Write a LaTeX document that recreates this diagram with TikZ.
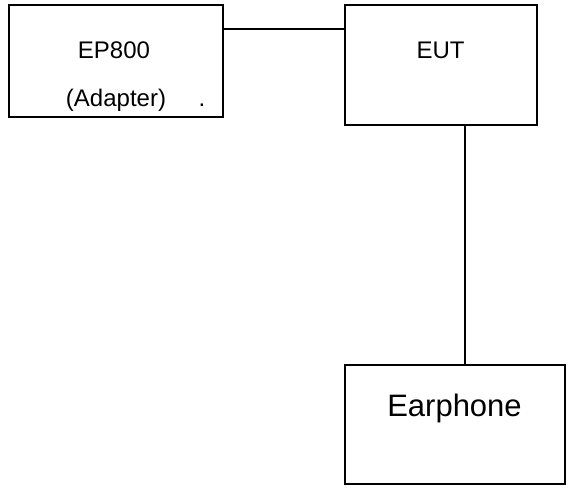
\documentclass[tikz,border=0pt]{standalone}
\usepackage{fontspec}
\setmainfont{Liberation Sans}
\begin{document}
\begin{tikzpicture}[x=1pt,y=-1pt,
  box/.style={draw=black,line width=2pt},
  wire/.style={draw=black,line width=2pt},
  lbl/.style={inner sep=0pt,anchor=base,font=\fontsize{24}{28}\selectfont},
  biglbl/.style={inner sep=0pt,anchor=base,font=\fontsize{31}{36}\selectfont}]
\useasboundingbox (0,0) rectangle (582,490);
\path[box] (8.5,4.7) rectangle (222.5,116.5);
\path[box] (344.5,5) rectangle (536.5,125);
\path[box] (344.5,365) rectangle (564.5,484);
\coordinate (epR) at (222.5,29.3);
\coordinate (eutL) at (344.5,29.3);
\coordinate (eutB) at (464.5,125);
\coordinate (earT) at (464.5,365);
\draw[wire] (epR) -- (eutL);
\draw[wire] (eutB) -- (earT);
\node[lbl] (ep) at (114,58) {EP800};
\node[lbl] (ad) at (116,106) {(Adapter)};
\node[lbl] (dot) at (202,106) {.};
\node[lbl] (eut) at (440.5,58) {EUT};
\node[biglbl] (ear) at (454.5,416) {Earphone};
\end{tikzpicture}
\end{document}
